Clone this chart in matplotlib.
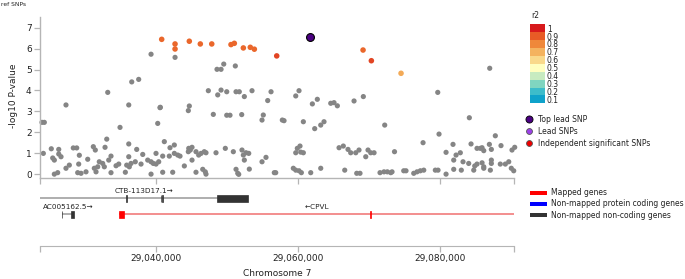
import matplotlib.pyplot as plt
import numpy as np
from matplotlib.colors import LinearSegmentedColormap
from matplotlib.patches import Rectangle
from matplotlib.ticker import FuncFormatter

# --- data --------------------------------------------------------------------

XMIN, XMAX = 29023660, 29090420

grey_pos = [
    29023940, 29024270, 29024130, 29025250, 29025450, 29025680, 29026300, 29026300, 29026620, 29025680,
    29026150, 29027320, 29027320, 29027790, 29028350, 29028830, 29029200, 29029110, 29028970, 29029440,
    29030140, 29030380, 29031170, 29031450, 29031310, 29031550, 29031790, 29032010, 29032490, 29032720,
    29032820, 29033060, 29033200, 29033340, 29033660, 29033660, 29034370, 29034750, 29034930, 29035680,
    29035870, 29036240, 29036480, 29036160, 29036160, 29036160, 29036580, 29037560, 29037080, 29037280,
    29037890, 29038130, 29038830, 29039300, 29039620, 29039300, 29039300, 29040000, 29040240, 29040560,
    29042680, 29048590, 29049160, 29049540, 29051170, 29047370, 29048690, 29049160, 29049960, 29051270,
    29051730, 29052440, 29053520, 29056200, 29055730, 29040610, 29044690, 29044550, 29048070, 29049960,
    29050420, 29052070, 29055110, 29054930, 29041170, 29041970, 29042580, 29040380, 29040000, 29040940,
    29041870, 29042580, 29043060, 29043380, 29044610, 29044830, 29045070, 29044550, 29045630, 29046010,
    29046340, 29046800, 29047040, 29048450, 29049760, 29050890, 29052110, 29052300, 29052680, 29053060,
    29052440, 29055490, 29054930, 29043990, 29045070, 29040940, 29042350, 29045630, 29046580, 29046940,
    29047040, 29051270, 29051510, 29051650, 29053140, 29056660,
    29060140, 29059680, 29062720, 29062020, 29064610, 29065070, 29065540, 29067890, 29069200, 29057790,
    29058030, 29060750, 29062350, 29063200, 29063660, 29072210, 29060280, 29059900, 29059680, 29060380,
    29060750, 29065780, 29066380, 29067040, 29067420, 29068130, 29068590, 29069860, 29070240, 29070710,
    29069540, 29056860, 29059340, 29059680, 29060140, 29060470, 29061790, 29063200, 29066580, 29068270,
    29068730, 29071550, 29072110, 29072580, 29073060,
    29087000, 29079680, 29084130, 29079860, 29087790, 29073590, 29077610, 29080850, 29081830, 29082260,
    29082860, 29081930, 29083240, 29084040, 29084370, 29085210, 29085680, 29086160, 29085920, 29086950,
    29087230, 29088590, 29090140, 29090520, 29084890, 29085210, 29085920, 29086160, 29087230, 29087230,
    29088490, 29089200, 29089680, 29090040, 29090380, 29073240, 29074890, 29075210, 29076300, 29076760,
    29077230, 29077710, 29079340, 29079720, 29080850, 29081930, 29083000, 29084750, 29087090, 29086160,
]
grey_logp = [
    2.48, 2.48, 1.00, 1.22, 0.78, 0.68, 1.19, 0.97, 0.84, 0.01,
    0.08, 3.31, 0.29, 0.44, 1.26, 1.26, 0.91, 0.49, 0.08, 0.05,
    0.12, 0.72, 1.32, 1.16, 0.29, 0.12, 0.36, 0.60, 0.52, 0.36,
    1.29, 1.68, 3.91, 0.68, 0.87, 0.08, 0.41, 0.49, 2.24, 0.10,
    0.44, 0.36, 0.52, 1.45, 0.84, 3.31, 4.41, 4.53, 0.60, 1.19,
    0.49, 0.95, 0.68, 0.60, 0.52, 5.73, 0.01, 1.00, 2.43, 3.18,
    5.58, 5.01, 5.01, 5.26, 5.17, 3.99, 3.79, 4.02, 3.94, 3.94,
    3.94, 3.71, 3.99, 3.94, 3.52, 3.20, 3.26, 3.04, 2.86, 2.82,
    2.82, 2.85, 2.83, 2.59, 1.56, 1.27, 1.40, 0.60, 0.49, 0.87,
    0.87, 1.00, 0.92, 0.87, 1.24, 1.16, 1.29, 1.08, 1.08, 0.92,
    1.00, 1.08, 1.03, 1.03, 1.24, 1.08, 1.16, 0.92, 1.03, 1.00,
    0.68, 0.81, 0.60, 0.40, 0.68, 0.10, 0.10, 0.10, 0.24, 0.12,
    0.01, 0.24, 0.05, 0.00, 0.25, 0.08,
    3.99, 3.74, 3.58, 3.36, 3.39, 3.42, 3.27, 3.50, 3.71, 2.59,
    2.56, 2.51, 2.18, 2.35, 2.51, 2.35, 1.35, 1.24, 1.03, 1.06,
    1.03, 1.27, 1.35, 1.19, 1.03, 1.03, 1.16, 1.16, 1.03, 1.03,
    0.84, 0.08, 0.29, 0.20, 0.17, 0.08, 0.08, 0.29, 0.20, 0.05,
    0.05, 0.08, 0.12, 0.12, 0.08,
    5.06, 3.91, 2.70, 1.92, 1.84, 1.08, 1.51, 1.05, 1.43, 0.92,
    1.03, 0.68, 0.60, 0.52, 1.45, 1.24, 1.24, 1.13, 1.27, 1.43,
    1.19, 1.37, 1.16, 1.29, 0.40, 0.49, 0.55, 0.36, 0.52, 0.68,
    0.49, 0.49, 0.60, 0.29, 0.17, 0.12, 0.17, 0.17, 0.05, 0.12,
    0.17, 0.20, 0.20, 0.20, 0.01, 0.24, 0.20, 0.20, 0.20, 0.29,
]

# SNPs in LD with the top lead SNP
ld_pos = [29040800, 29042680, 29042680, 29044690, 29046240, 29047850, 29050560, 29051030,
          29052300, 29053280, 29053850, 29069160, 29057000, 29070330, 29074510]
ld_logp = [6.44, 6.22, 5.98, 6.35, 6.22, 6.22, 6.19, 6.25,
           6.03, 6.06, 5.97, 5.93, 5.65, 5.42, 4.82]
ld_r2 = [0.87, 0.87, 0.87, 0.87, 0.87, 0.87, 0.87, 0.87,
         0.87, 0.87, 0.87, 0.87, 0.93, 0.93, 0.72]

top_lead_pos = [29061690]
top_lead_logp = [6.54]

r2_labels = ["1", "0.9", "0.8", "0.7", "0.6", "0.5", "0.4", "0.3", "0.2", "0.1"]
r2_colors = ["#d7191c", "#e85b26", "#ef883a", "#f4b35f", "#f9d98b",
             "#ffffc0", "#c7ebc0", "#80d5c0", "#3dbcca", "#0fa2ca"]

gene_names = ["CTB-113D17.1", "AC005162.5", "CPVL"]
gene_start = [29023700, 29026720, 29034830]
gene_end = [29052960, 29028450, 29095000]
gene_strand = ["+", "+", "-"]
gene_lane = [0, 1, 1]
gene_kind = ["noncoding", "noncoding", "mapped"]
gene_exons = [
    [(29035830, 29035930), (29040660, 29040740), (29040850, 29040930), (29048550, 29052960)],
    [(29026690, 29026760), (29028030, 29028450)],
    [(29034830, 29035490), (29070200, 29070280)],
]

kind_colors = {"mapped": "#ff0000", "coding": "#0000ff", "noncoding": "#333333"}
line_colors = {"mapped": "#f07070", "coding": "#7070f0", "noncoding": "#999999"}

# --- figure ------------------------------------------------------------------

W, H = 685, 279
fig = plt.figure(figsize=(W / 100, H / 100), dpi=100)
plt.rcParams["font.family"] = ["DejaVu Sans"]

SPINE = "#b5b5b5"
TXT = "#222222"
FS = 6.5


def px_rect(x0, y0, x1, y1):
    """figure-fraction rect from pixel box (y measured from top)."""
    return [x0 / W, 1 - y1 / H, (x1 - x0) / W, (y1 - y0) / H]


# manhattan / regional panel
ax = fig.add_axes(px_rect(40, 16.7, 514, 177.7))
ax.scatter(grey_pos, grey_logp, s=14, c="#858585", edgecolors="none", clip_on=False, zorder=2)
cmap = LinearSegmentedColormap.from_list("r2", list(zip(np.linspace(0, 1, 10), r2_colors[::-1])))
ax.scatter(ld_pos, ld_logp, s=16, c=cmap((np.array(ld_r2) - 0.1) / 0.9), edgecolors="none",
           clip_on=False, zorder=3)
ax.scatter(top_lead_pos, top_lead_logp, s=32, c="#4b0082", edgecolors="black", linewidths=0.8,
           clip_on=False, zorder=4)
ax.set_xlim(XMIN, XMAX)
ax.set_ylim(-0.16, 7.52)
ax.set_yticks(range(8))
ax.set_xticks([29040000, 29060000, 29080000])
ax.set_xticks([XMIN, XMAX], minor=True)
ax.set_xticklabels([])
for s in ("top", "right"):
    ax.spines[s].set_visible(False)
for s in ("left", "bottom"):
    ax.spines[s].set_color(SPINE)
    ax.spines[s].set_linewidth(1.0)
ax.tick_params(axis="both", which="both", colors=SPINE, labelcolor=TXT, labelsize=FS,
               length=4, width=0.9, pad=2)
fig.text(13 / W, 1 - 95.5 / H, "-log10 P-value", rotation=90, ha="center", va="center",
         fontsize=FS, color=TXT)
fig.text(1 / W, 1 - 4 / H, "ref SNPs", ha="left", va="center", fontsize=4.3, color=TXT)

# gene track
gx = fig.add_axes(px_rect(40, 185, 514, 245.7))
lane_px = 16.0
gx.set_ylim(-(245.7 - 198.3) / lane_px, (198.3 - 185) / lane_px)
gx.set_xlim(XMIN, XMAX)
exon_h = 7 / lane_px
for name, st, en, strand, lane, kind, exons in zip(gene_names, gene_start, gene_end, gene_strand,
                                                   gene_lane, gene_kind, gene_exons):
    y = -lane
    gx.plot([st, en], [y, y], color=line_colors[kind], lw=1.1, solid_capstyle="butt", zorder=1)
    for a, b in exons:
        gx.add_patch(Rectangle((a, y - exon_h / 2), b - a, exon_h, facecolor=kind_colors[kind],
                               edgecolor=kind_colors[kind], lw=0.5, zorder=2))
    mid = (max(st, XMIN) + min(en, XMAX)) / 2
    label = name + "\u2192" if strand == "+" else "\u2190" + name
    gx.text(mid, y + 0.47, label, ha="center", va="center", fontsize=5.2, color=TXT)
for s in ("top", "right", "left"):
    gx.spines[s].set_visible(False)
gx.spines["bottom"].set_color(SPINE)
gx.set_yticks([])
gx.set_xticks([29040000, 29060000, 29080000])
gx.set_xticks([XMIN, XMAX], minor=True)
gx.xaxis.set_major_formatter(FuncFormatter(lambda v, p: f"{int(round(v)):,}"))
gx.tick_params(axis="x", which="both", colors=SPINE, labelcolor=TXT, labelsize=FS,
               length=4, width=0.9, pad=2)
fig.text(277 / W, 1 - 274 / H, "Chromosome 7", ha="center", va="center", fontsize=FS, color=TXT)

# legends drawn in an overlay measured in pixels
lg = fig.add_axes([0, 0, 1, 1])
lg.set_xlim(0, W)
lg.set_ylim(H, 0)
lg.axis("off")

cb_top, cb_step = 24.3, 7.9
lg.text(531, 16, "r2", ha="left", va="center", fontsize=5.5, color=TXT)
for i, (lab, col) in enumerate(zip(r2_labels, r2_colors)):
    y0 = cb_top + i * cb_step
    lg.add_patch(Rectangle((530, y0), 15, cb_step, facecolor=col, edgecolor="none"))
    lg.text(547, y0 + cb_step * 0.62, lab, ha="left", va="center", fontsize=5.5, color=TXT)

snp_legend = [("Top lead SNP", "#4b0082", "black", 26),
              ("Lead SNPs", "#9b40e8", "#555555", 18),
              ("Independent significant SNPs", "#ee0000", "#555555", 18)]
for i, (lab, fc, ec, sz) in enumerate(snp_legend):
    y = 119 + i * 12
    lg.scatter([529], [y], s=sz, c=fc, edgecolors=ec, linewidths=0.6)
    lg.text(538, y, lab, ha="left", va="center", fontsize=5.5, color=TXT)

gene_legend = [("Mapped genes", "#ff0000"),
               ("Non-mapped protein coding genes", "#0000ff"),
               ("Non-mapped non-coding genes", "#333333")]
for i, (lab, col) in enumerate(gene_legend):
    y = 192.5 + i * 11.3
    lg.add_patch(Rectangle((530, y - 2), 17, 4, facecolor=col, edgecolor="none"))
    lg.text(551, y, lab, ha="left", va="center", fontsize=5.5, color=TXT)

fig.savefig("out.png", dpi=100)
